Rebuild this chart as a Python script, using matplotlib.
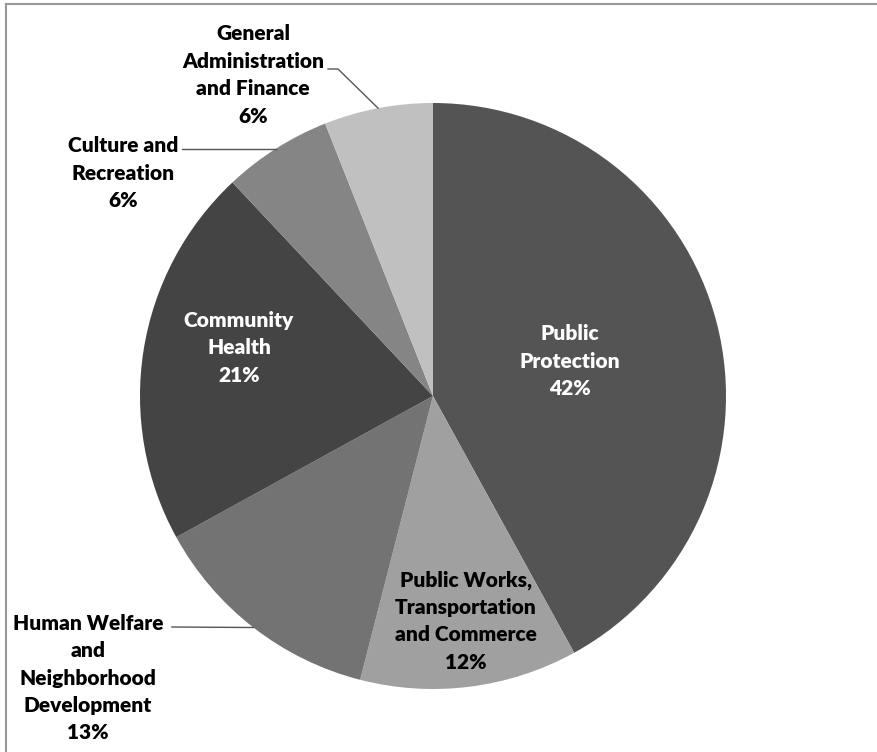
import numpy as np
import matplotlib
matplotlib.use("Agg")
import matplotlib.pyplot as plt
from matplotlib.lines import Line2D

categories = ["Public\nProtection", "Public Works,\nTransportation\nand Commerce",
              "Human Welfare\nand\nNeighborhood\nDevelopment", "Community\nHealth",
              "Culture and\nRecreation", "General\nAdministration\nand Finance"]
values = [42, 12, 13, 21, 6, 6]
colors = ["#545454", "#a0a0a0", "#737373", "#444444", "#858585", "#c0c0c0"]

W, H = 877, 752
fig = plt.figure(figsize=(W / 100, H / 100), dpi=100)
ax = fig.add_axes([0, 0, 1, 1])
ax.set_xlim(0, W)
ax.set_ylim(0, H)
ax.set_aspect("equal")
ax.axis("off")

cx, cy, R = 433, H - 396, 293
wedges, _ = ax.pie(values, colors=colors, startangle=90, counterclock=False,
                   center=(cx, cy), radius=R, frame=True,
                   wedgeprops=dict(linewidth=0))
ax.set_xlim(0, W)
ax.set_ylim(0, H)
ax.axis("off")

font = dict(family=["Lato", "DejaVu Sans"], fontweight="heavy", fontsize=15,
            linespacing=1.53)

def lab(i):
    return f"{categories[i]}\n{values[i]}%"

# inside labels
ax.text(570, H - 361, lab(0), color="white", ha="center", va="center", **font)
ax.text(466, H - 621, lab(1), color="black", ha="center", va="center", **font)
ax.text(239, H - 348, lab(3), color="white", ha="center", va="center", **font)

# outside labels
ax.text(88, H - 678, lab(2), color="black", ha="center", va="center", **font)
ax.text(123, H - 173, lab(4), color="black", ha="center", va="center", **font)
ax.text(253, H - 75, lab(5), color="black", ha="center", va="center", **font)

def edge_pt(w):
    a = np.deg2rad((w.theta1 + w.theta2) / 2)
    return cx + R * np.cos(a), cy + R * np.sin(a)

lc = dict(color="#555555", lw=1.0)
# Human Welfare leader
ex, ey = edge_pt(wedges[2])
ax.plot([172, ex], [H - 627, ey], **lc)
# Culture leader
ex, ey = edge_pt(wedges[4])
ax.plot([182, ex], [ey, ey], **lc)
# General Admin leader
ex, ey = edge_pt(wedges[5])
ax.plot([328, 338, ex], [H - 69, H - 69, ey], **lc)

# frame (top and left edges)
fig.add_artist(Line2D([6 / W, 1], [1 - 4 / H, 1 - 4 / H], transform=fig.transFigure,
                      color="#999999", lw=1.5))
fig.add_artist(Line2D([6 / W, 6 / W], [0, 1 - 4 / H], transform=fig.transFigure,
                      color="#999999", lw=1.5))

fig.savefig("out.png", dpi=100, facecolor="white")
